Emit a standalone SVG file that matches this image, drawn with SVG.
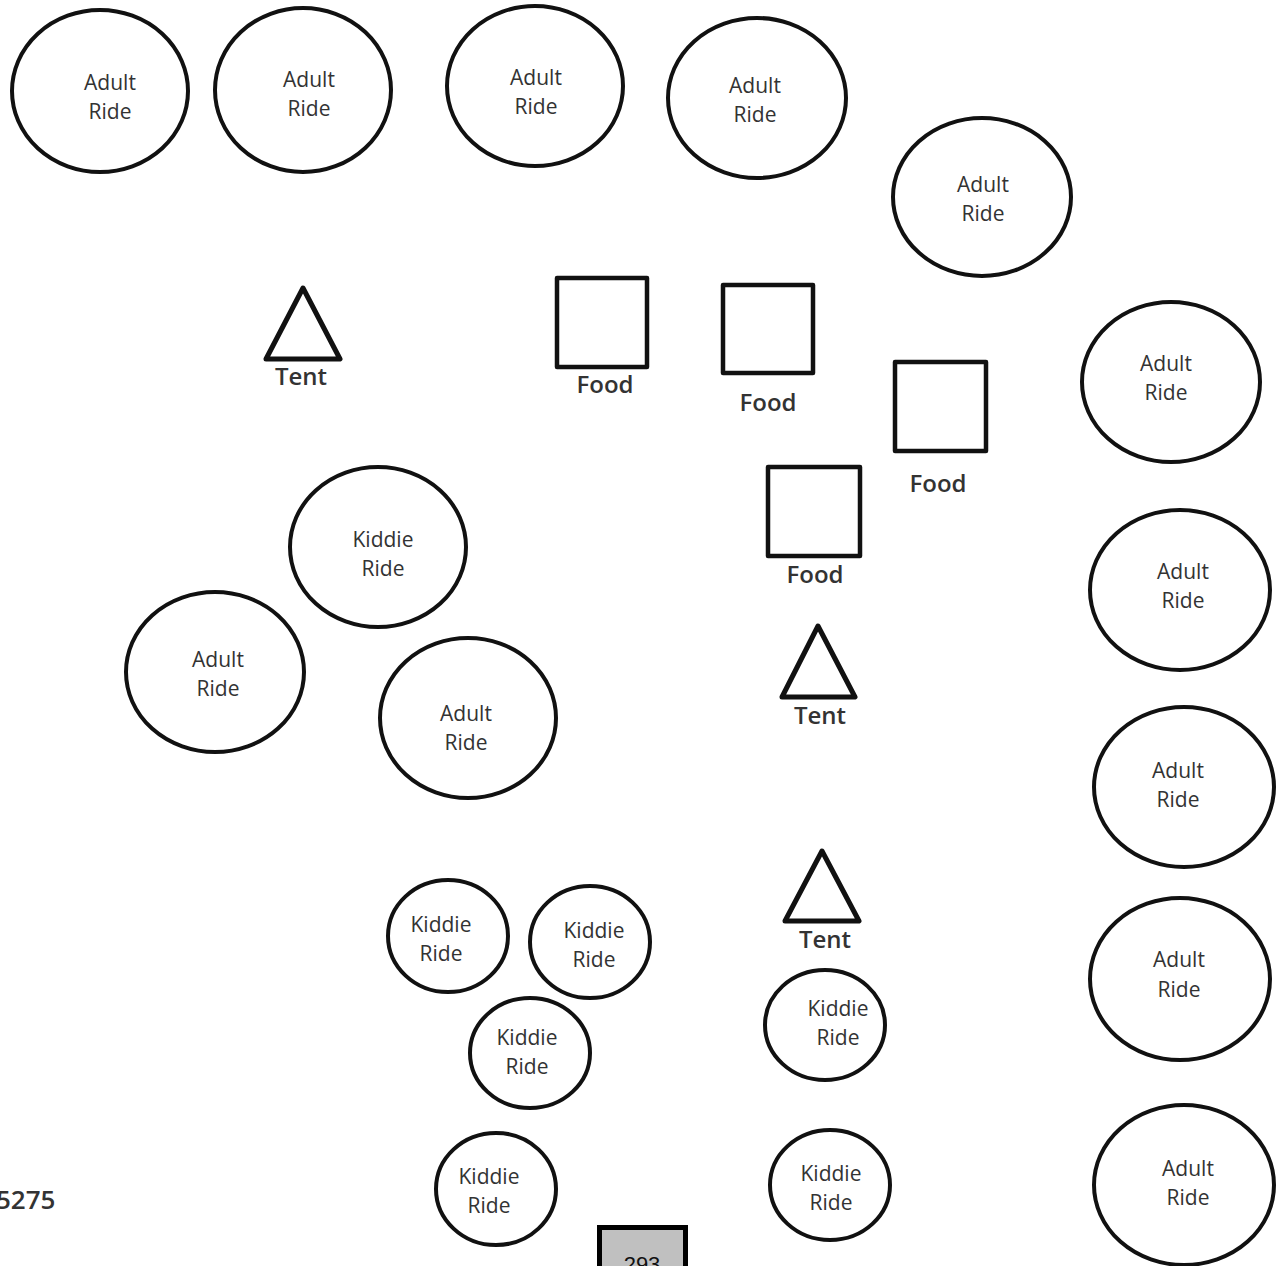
<svg xmlns="http://www.w3.org/2000/svg" width="1277" height="1266" viewBox="0 0 1277 1266">
<style>
.e{fill:none;stroke:#111;stroke-width:4}
.k{fill:none;stroke:#111;stroke-width:4}
.sq{fill:none;stroke:#111;stroke-width:4.5;stroke-linejoin:round}
.tr{fill:none;stroke:#111;stroke-width:5;stroke-linejoin:round}
.t{font-family:"Open Sans","Noto Sans",sans-serif;font-size:21px;font-weight:500;fill:#333;text-anchor:middle}
.l{font-family:"Open Sans","Noto Sans",sans-serif;font-size:24px;font-weight:600;fill:#333;text-anchor:middle}
</style>
<rect width="1277" height="1266" fill="#fff"/>
<g id="adult1"><ellipse class="e" cx="100" cy="91" rx="88" ry="81"/><text class="t" x="110" y="90">Adult</text><text class="t" x="110" y="119">Ride</text></g>
<g id="adult2"><ellipse class="e" cx="303" cy="90" rx="88" ry="82"/><text class="t" x="309" y="87">Adult</text><text class="t" x="309" y="116">Ride</text></g>
<g id="adult3"><ellipse class="e" cx="535" cy="86" rx="88" ry="80"/><text class="t" x="536" y="85">Adult</text><text class="t" x="536" y="114">Ride</text></g>
<g id="adult4"><ellipse class="e" cx="757" cy="98" rx="89" ry="80"/><text class="t" x="755" y="93">Adult</text><text class="t" x="755" y="122">Ride</text></g>
<g id="adult5"><ellipse class="e" cx="982" cy="197" rx="89" ry="79"/><text class="t" x="983" y="192">Adult</text><text class="t" x="983" y="221">Ride</text></g>
<g id="adult6"><ellipse class="e" cx="1171" cy="382" rx="89" ry="80"/><text class="t" x="1166" y="371">Adult</text><text class="t" x="1166" y="400">Ride</text></g>
<g id="adult7"><ellipse class="e" cx="1180" cy="590" rx="90" ry="80"/><text class="t" x="1183" y="579">Adult</text><text class="t" x="1183" y="608">Ride</text></g>
<g id="adult8"><ellipse class="e" cx="1184" cy="787" rx="90" ry="80"/><text class="t" x="1178" y="778">Adult</text><text class="t" x="1178" y="807">Ride</text></g>
<g id="adult9"><ellipse class="e" cx="1180" cy="979" rx="90" ry="81"/><text class="t" x="1179" y="967">Adult</text><text class="t" x="1179" y="997">Ride</text></g>
<g id="adult10"><ellipse class="e" cx="1184" cy="1185" rx="90" ry="80"/><text class="t" x="1188" y="1176">Adult</text><text class="t" x="1188" y="1205">Ride</text></g>
<g id="kiddie-big"><ellipse class="e" cx="378" cy="547" rx="88" ry="80"/><text class="t" x="383" y="547">Kiddie</text><text class="t" x="383" y="576">Ride</text></g>
<g id="adult-left"><ellipse class="e" cx="215" cy="672" rx="89" ry="80"/><text class="t" x="218" y="667">Adult</text><text class="t" x="218" y="696">Ride</text></g>
<g id="adult-mid"><ellipse class="e" cx="468" cy="718" rx="88" ry="80"/><text class="t" x="466" y="721">Adult</text><text class="t" x="466" y="750">Ride</text></g>
<g id="kiddie1"><ellipse class="k" cx="448" cy="936" rx="60" ry="56"/><text class="t" x="441" y="932">Kiddie</text><text class="t" x="441" y="961">Ride</text></g>
<g id="kiddie2"><ellipse class="k" cx="590" cy="942" rx="60" ry="56"/><text class="t" x="594" y="938">Kiddie</text><text class="t" x="594" y="967">Ride</text></g>
<g id="kiddie3"><ellipse class="k" cx="530" cy="1053" rx="60" ry="55"/><text class="t" x="527" y="1045">Kiddie</text><text class="t" x="527" y="1074">Ride</text></g>
<g id="kiddie4"><ellipse class="k" cx="496" cy="1189" rx="60" ry="56"/><text class="t" x="489" y="1184">Kiddie</text><text class="t" x="489" y="1213">Ride</text></g>
<g id="kiddie5"><ellipse class="k" cx="825" cy="1025" rx="60" ry="55"/><text class="t" x="838" y="1016">Kiddie</text><text class="t" x="838" y="1045">Ride</text></g>
<g id="kiddie6"><ellipse class="k" cx="830" cy="1185" rx="60" ry="55"/><text class="t" x="831" y="1181">Kiddie</text><text class="t" x="831" y="1210">Ride</text></g>
<g id="food1"><rect class="sq" x="557" y="278" width="90" height="89"/><text class="l" x="605" y="393">Food</text></g>
<g id="food2"><rect class="sq" x="723" y="285" width="90" height="88"/><text class="l" x="768" y="411">Food</text></g>
<g id="food3"><rect class="sq" x="895" y="362" width="91" height="89"/><text class="l" x="938" y="492">Food</text></g>
<g id="food4"><rect class="sq" x="768" y="467" width="92" height="89"/><text class="l" x="815" y="583">Food</text></g>
<g id="tent1"><polygon class="tr" points="303,288 340,359 266,359"/><text class="l" x="301" y="385">Tent</text></g>
<g id="tent2"><polygon class="tr" points="818,626 855,697 782,697"/><text class="l" x="820" y="724">Tent</text></g>
<g id="tent3"><polygon class="tr" points="822,851 859,921 785,921"/><text class="l" x="825" y="948">Tent</text></g>
<g id="connectors"></g>
<text x="-4" y="1209" font-family="'Open Sans','Noto Sans',sans-serif" font-size="26" font-weight="600" fill="#333">5275</text>
<g id="page"><rect x="599.5" y="1227.5" width="86" height="50" fill="#c0c0c0" stroke="#000" stroke-width="5"/><text x="642" y="1272" font-family="'Liberation Sans',Arial,sans-serif" font-size="22" fill="#111" text-anchor="middle">293</text></g>
</svg>
